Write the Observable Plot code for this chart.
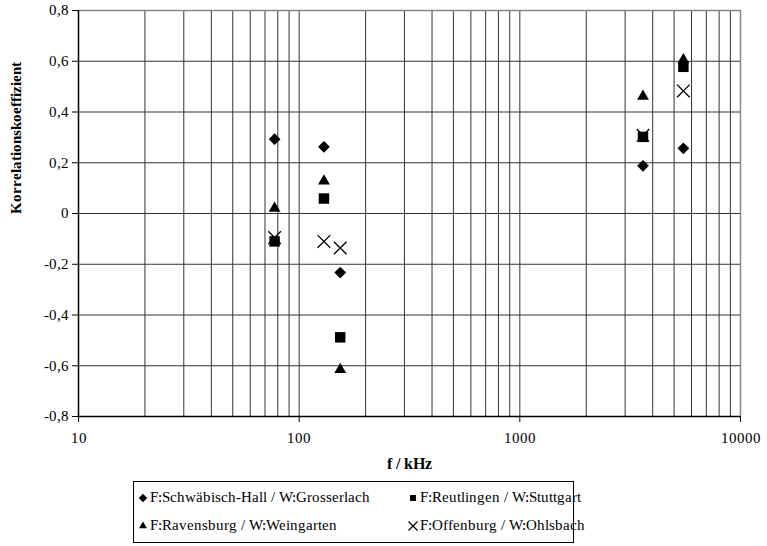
<!DOCTYPE html>
<html>
<head>
<meta charset="utf-8">
<script src="https://cdn.jsdelivr.net/npm/d3@7"></script>
<script src="https://cdn.jsdelivr.net/npm/@observablehq/plot@0.6"></script>
<style>
  @font-face { font-family: "RefSerif"; src: local("Liberation Serif"), local("LiberationSerif"), local("LiberationSerif-Regular"); font-weight: 400; }
  @font-face { font-family: "RefSerif"; src: local("Liberation Serif Bold"), local("LiberationSerif-Bold"); font-weight: 700; }
  html, body { margin: 0; padding: 0; background: #fff; }
</style>
</head>
<body>
<div id="wrap" style="position:relative;width:767px;height:546px;font-family:RefSerif,'Liberation Serif',serif;">
  <div id="chart"></div>
  <div id="legend" style="position:absolute;left:133px;top:481px;width:441px;height:62px;border:1px solid #000;box-sizing:border-box;font-size:15px;color:#000;"></div>
</div>
<script>
// Data
const freqs = [77.4, 129.5, 153.5, 3615, 5510];
const seriesNames = [
  "F:Schwäbisch-Hall / W:Grosserlach",
  "F:Reutlingen / W:Stuttgart",
  "F:Ravensburg / W:Weingarten",
  "F:Offenburg / W:Ohlsbach"
];
const schwaebischHall = [0.293, 0.263, -0.233, 0.188, 0.257];
const reutlingen      = [-0.110, 0.059, -0.488, 0.302, 0.578];
const ravensburg      = [0.020, 0.128, -0.615, 0.462, 0.606];
const offenburg       = [-0.095, -0.110, -0.136, 0.308, 0.483];
const seriesValues = [schwaebischHall, reutlingen, ravensburg, offenburg];
const seriesSymbols = ["diamond2", "square", "triangle", "times"];

const yTicks = [-0.8, -0.6, -0.4, -0.2, 0, 0.2, 0.4, 0.6, 0.8];
const xTicks = [10, 100, 1000, 10000];
const xGrid = [];
for (const d of [10, 100, 1000]) for (let k = 1; k <= 9; k++) xGrid.push(d * k);
xGrid.push(10000);

const rows = [];
seriesValues.forEach((vals, si) => {
  vals.forEach((v, i) => {
    if (v != null) rows.push({f: freqs[i], v, s: seriesNames[si], sym: seriesSymbols[si]});
  });
});
const bySym = s => rows.filter(d => d.sym === s);

const fmt = d => String(Math.round(d * 10) / 10).replace(".", ",");

const chart = Plot.plot({
  width: 767,
  height: 478,
  marginTop: 10,
  marginBottom: 62,
  marginLeft: 78,
  marginRight: 27,
  style: {fontFamily: "RefSerif, 'Liberation Serif', serif", fontSize: "15px", color: "#000", background: "#fff"},
  x: {type: "log", domain: [10, 10000]},
  y: {domain: [-0.8, 0.8]},
  marks: [
    Plot.ruleX(xGrid, {stroke: "#333", strokeWidth: 1}),
    Plot.ruleY(yTicks, {stroke: "#333", strokeWidth: 1}),
    Plot.ruleX([10000], {stroke: "#888", strokeWidth: 1.5}),
    Plot.ruleY([0.8], {stroke: "#888", strokeWidth: 1.5}),
    Plot.ruleX([10], {stroke: "#000", strokeWidth: 1.5}),
    Plot.ruleY([-0.8], {stroke: "#000", strokeWidth: 1.5}),
    Plot.axisY({ticks: yTicks, tickFormat: fmt, tickSize: 6, tickPadding: 4, label: null, fontSize: 15}),
    Plot.axisX({ticks: xTicks, tickFormat: d => String(d), tickSize: 6, tickPadding: 10, label: null, fontSize: 15}),
    Plot.text(["Korrelationskoeffizient"], {frameAnchor: "left", rotate: -90, dx: -62, fontWeight: "bold", fontSize: 15}),
    Plot.text(["f / kHz"], {frameAnchor: "bottom", dy: 52, fontWeight: "bold", fontSize: 16}),
    Plot.dot(bySym("diamond2"), {x: "f", y: "v", symbol: "diamond2", r: 5.3, fill: "#000", stroke: "none"}),
    Plot.dot(bySym("square"), {x: "f", y: "v", symbol: "square", r: 5.9, fill: "#000", stroke: "none"}),
    Plot.dot(bySym("triangle"), {x: "f", y: "v", symbol: "triangle", r: 4.4, fill: "#000", stroke: "none"}),
    Plot.dot(bySym("times"), {x: "f", y: "v", symbol: "times", r: 5.8, stroke: "#000", strokeWidth: 1.3, fill: "none"})
  ]
});
document.getElementById("chart").appendChild(chart);

// Legend
const legend = d3.select("#legend");
const symMap = {diamond2: d3.symbolDiamond2, square: d3.symbolSquare2, triangle: d3.symbolTriangle2, times: d3.symbolTimes};
const pos = [[4, 7], [274, 7], [4, 35], [274, 35]];
seriesNames.forEach((name, i) => {
  const it = legend.append("div")
    .style("position", "absolute").style("display", "flex").style("align-items", "center")
    .style("white-space", "nowrap")
    .style("left", pos[i][0] + "px").style("top", pos[i][1] + "px");
  const svg = it.append("svg").attr("width", 10).attr("height", 14).style("margin-right", "2px");
  const sym = seriesSymbols[i];
  const p = d3.symbol(symMap[sym], sym === "times" ? 55 : 45)();
  const path = svg.append("path").attr("d", p).attr("transform", "translate(5,7)");
  if (sym === "times") path.attr("fill", "none").attr("stroke", "#000").attr("stroke-width", 1.2);
  else path.attr("fill", "#000");
  it.append("span").text(name);
});
</script>
</body>
</html>
